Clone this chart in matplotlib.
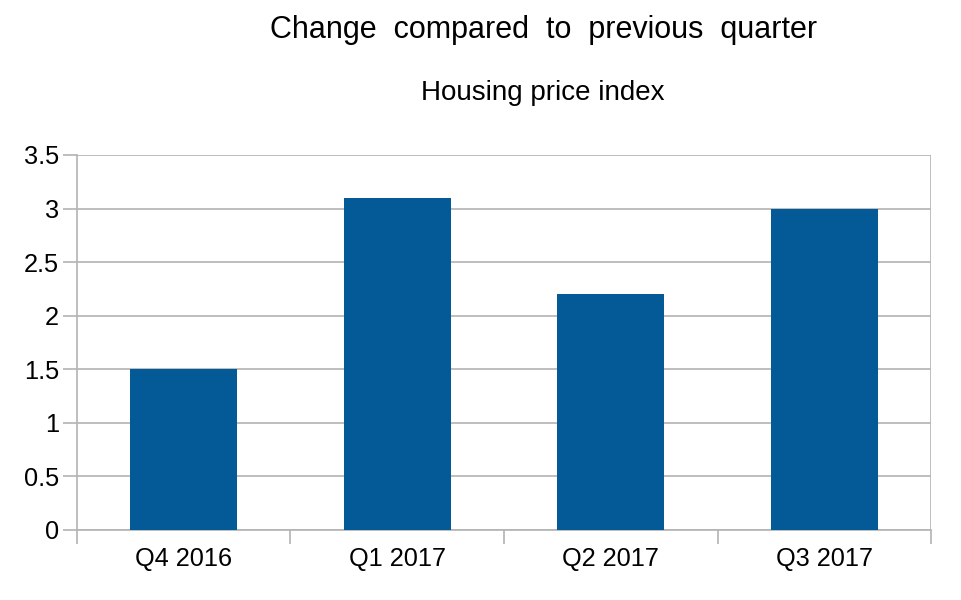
import numpy as np
import matplotlib.pyplot as plt

# data
quarters = ["Q4 2016", "Q1 2017", "Q2 2017", "Q3 2017"]
change   = [1.5, 3.1, 2.2, 3.0]

BAR_COLOR  = "#045a96"
GRID_COLOR = "#b3b3b3"

plt.rcParams['font.family'] = ['Liberation Sans', 'DejaVu Sans']

fig = plt.figure(figsize=(9.62, 6.0), dpi=100)
ax = fig.add_axes([0.080, 0.1167, 0.8878, 0.625])

x = np.arange(len(quarters))
ax.bar(x, change, width=0.5, color=BAR_COLOR, zorder=3)

ax.set_xlim(-0.5, len(quarters) - 0.5)
ax.set_ylim(0, 3.5)
ax.set_yticks(np.arange(0, 3.51, 0.5))
ax.set_yticklabels(["0", "0.5", "1", "1.5", "2", "2.5", "3", "3.5"])

# category labels in the middle, ticks at the boundaries
ax.set_xticks(x)
ax.set_xticklabels(quarters)
ax.set_xticks(np.arange(-0.5, len(quarters), 1.0), minor=True)
ax.tick_params(axis='x', which='major', length=0, pad=12, labelsize=18.3)
ax.tick_params(axis='x', which='minor', length=10, width=1.2, color=GRID_COLOR)
ax.tick_params(axis='y', length=10, width=1.2, color=GRID_COLOR, labelsize=18.3, pad=3)

ax.grid(axis='y', color=GRID_COLOR, linewidth=1.2, zorder=0)
for s in ['top', 'right']:
    ax.spines[s].set_visible(False)
for s in ['left', 'bottom']:
    ax.spines[s].set_color(GRID_COLOR)
    ax.spines[s].set_linewidth(1.2)
ax.spines['left'].set_bounds(0, 3.5)
ax.vlines(len(quarters) - 0.5, 0, 3.5, color=GRID_COLOR, linewidth=1.2, zorder=1)

fig.text(0.565, 0.950, "Change  compared  to  previous  quarter", ha='center', va='center', fontsize=22)
fig.text(0.564, 0.845, "Housing price index", ha='center', va='center', fontsize=20)

fig.savefig("out.png", dpi=100)
